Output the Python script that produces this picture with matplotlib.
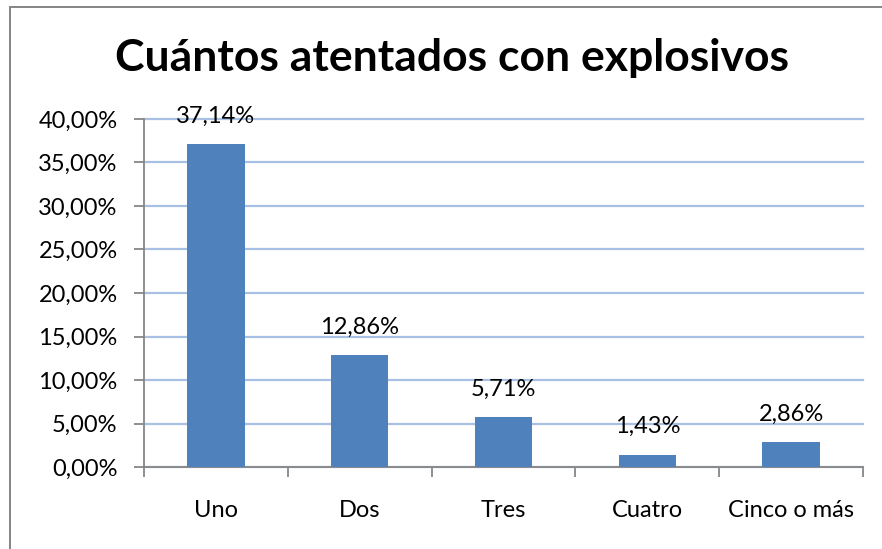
import matplotlib
matplotlib.use("Agg")
from matplotlib import pyplot as plt
from matplotlib.patches import Rectangle
from matplotlib.ticker import FuncFormatter, MultipleLocator

# ---------------------------- DATA ----------------------------
categories = ["Uno", "Dos", "Tres", "Cuatro", "Cinco o más"]
percentages = [37.14, 12.86, 5.71, 1.43, 2.86]
title = "Cuántos atentados con explosivos"

plt.rcParams['font.family'] = ['Lato', 'DejaVu Sans']

W, H = 882, 549
fig = plt.figure(figsize=(W / 100, H / 100), dpi=100)
fig.patch.set_facecolor("white")

# border of the chart (only left/top visible in the reference), as thin filled strips
fig.add_artist(Rectangle((9 / W, 0), 2 / W, 1 - 6 / H, transform=fig.transFigure,
                         facecolor="#888888", edgecolor="none"))
fig.add_artist(Rectangle((9 / W, 1 - 8 / H), 1 - 9 / W, 2 / H, transform=fig.transFigure,
                         facecolor="#888888", edgecolor="none"))

ax = fig.add_axes([144 / W, 1 - 467 / H, (863 - 144) / W, (467 - 119) / H])

x = list(range(len(categories)))
bars = ax.bar(x, percentages, width=0.4, color="#4F81BD", zorder=3)

for xi, v in zip(x, percentages):
    ax.annotate(f"{v:.2f}%".replace(".", ","), (xi, v), xytext=(0, 20), textcoords="offset points",
                ha="center", va="center", fontsize=17, color="black", zorder=4)

ax.set_xlim(-0.5, len(categories) - 0.5)
ax.set_ylim(0, 40)
ax.yaxis.set_major_locator(MultipleLocator(5))
ax.yaxis.set_major_formatter(FuncFormatter(lambda v, p: f"{v:.2f}%".replace(".", ",")))
ax.grid(axis="y", color="#A7C0E3", linewidth=1.6, zorder=0)
for gl in ax.get_ygridlines():
    gl.set_clip_on(False)

ax.set_xticks([i - 0.5 for i in range(len(categories) + 1)])
ax.set_xticklabels([])
ax.set_xticks(x, minor=True)
ax.set_xticklabels(categories, minor=True)
ax.tick_params(axis="x", which="minor", length=0, pad=24, labelsize=17)
ax.tick_params(axis="x", which="major", length=7, color="#868686", width=1.3, direction="out")
ax.tick_params(axis="y", length=7, color="#868686", width=1.3, labelsize=17, pad=12)

for side in ["top", "right"]:
    ax.spines[side].set_visible(False)
for side in ["left", "bottom"]:
    ax.spines[side].set_color("#868686")
    ax.spines[side].set_linewidth(1.3)

fig.text(452 / W, 1 - 58 / H, title, ha="center", va="center", fontsize=32, fontweight="bold")

fig.savefig("out.png", dpi=100)
